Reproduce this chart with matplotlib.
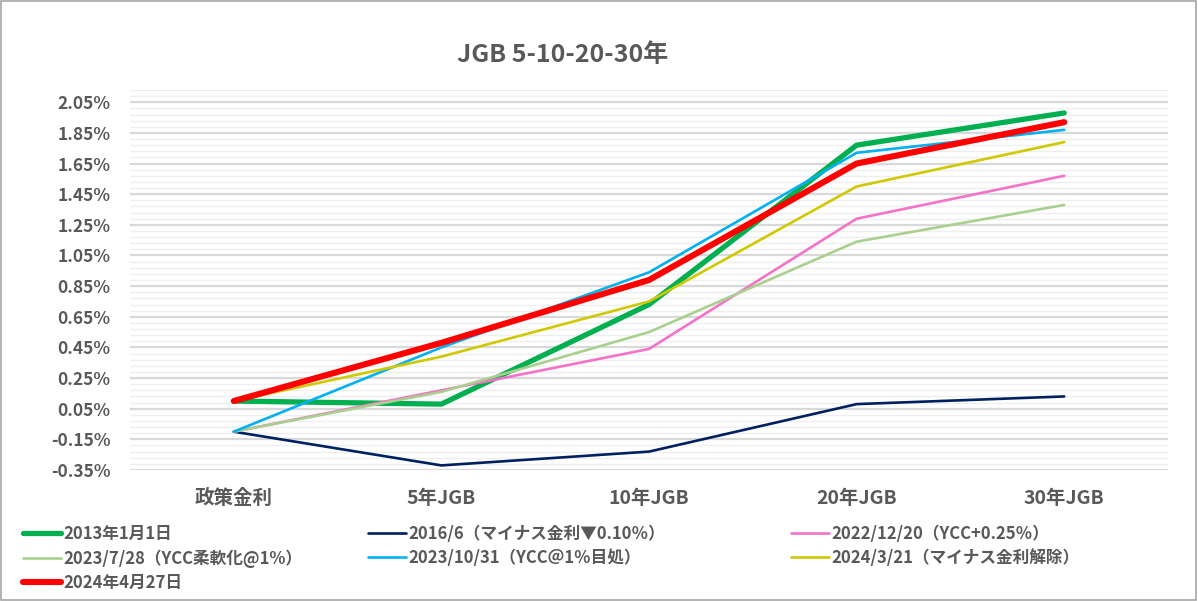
import matplotlib
matplotlib.use("Agg")
import matplotlib.pyplot as plt
from matplotlib.patches import Rectangle
from matplotlib.ticker import MultipleLocator, FuncFormatter

plt.rcParams['font.family'] = ['Noto Sans CJK JP', 'DejaVu Sans']

categories = ["政策金利", "5年JGB", "10年JGB", "20年JGB", "30年JGB"]

labels = [
    "2013年1月1日",
    "2016/6（マイナス金利▼0.10％）",
    "2022/12/20（YCC+0.25％）",
    "2023/7/28（YCC柔軟化@1%）",
    "2023/10/31（YCC＠1％目処）",
    "2024/3/21（マイナス金利解除）",
    "2024年4月27日",
]

y_2013 = [0.10, 0.08, 0.73, 1.77, 1.98]
y_2016 = [-0.10, -0.32, -0.23, 0.08, 0.13]
y_2022 = [-0.10, 0.17, 0.44, 1.29, 1.57]
y_2023_7 = [-0.10, 0.16, 0.55, 1.14, 1.38]
y_2023_10 = [-0.10, 0.45, 0.94, 1.72, 1.87]
y_2024_3 = [0.10, 0.39, 0.75, 1.50, 1.79]
y_2024_4 = [0.10, 0.48, 0.89, 1.65, 1.92]

series = [y_2013, y_2016, y_2022, y_2023_7, y_2023_10, y_2024_3, y_2024_4]
colors = ["#00B050", "#002060", "#F472C8", "#A9D08E", "#00B0F0", "#D0C800", "#FF0000"]
widths = [3.8, 1.9, 1.9, 1.9, 1.9, 1.9, 4.4]

txt = "#595959"

fig = plt.figure(figsize=(11.98, 6.01), dpi=100)
fig.patches.append(Rectangle((0.0005, 0.001), 0.998, 0.997, transform=fig.transFigure,
                             fill=False, edgecolor="#A6A6A6", linewidth=1.2))

ax = fig.add_axes([130 / 1198, 1 - 470 / 601, 1038 / 1198, 380 / 601])

x = list(range(len(categories)))
handles = []
for ys, c, w, lab in zip(series, colors, widths, labels):
    h, = ax.plot(x, ys, color=c, linewidth=w, label=lab, solid_capstyle="round",
                 solid_joinstyle="round", zorder=3)
    handles.append(h)

ax.set_xlim(-0.5, 4.5)
ax.set_ylim(-0.35, 2.13)
ax.yaxis.set_major_locator(MultipleLocator(0.20, offset=0.05))
ax.yaxis.set_minor_locator(MultipleLocator(0.04, offset=0.01))
ax.yaxis.set_major_formatter(FuncFormatter(lambda v, p: f"{v:.2f}%"))
ax.grid(which="major", axis="y", color="#D9D9D9", linewidth=1.6, zorder=0)
ax.grid(which="minor", axis="y", color="#EFEFEF", linewidth=1.0, zorder=0)
ax.set_axisbelow(True)
for s in ax.spines.values():
    s.set_visible(False)
ax.tick_params(axis="both", which="both", length=0)
ax.tick_params(axis="y", pad=14, labelsize=12.5, labelcolor=txt)
ax.tick_params(axis="x", pad=13.5, labelsize=14, labelcolor=txt)
ax.set_xticks(x)
ax.set_xticklabels(categories, fontweight="bold")
for t in ax.get_yticklabels():
    t.set_fontweight("bold")

fig.text(563 / 1198, 1 - 55 / 601, "JGB 5-10-20-30年", ha="center", va="center",
         fontsize=18, fontweight="bold", color=txt)

# legend laid out as three columns like the Excel one
cols = [[0, 3, 6], [1, 4], [2, 5]]
col_x = [23 / 1198, 368 / 1198, 791 / 1198]
for idx, cx in zip(cols, col_x):
    leg = fig.legend([handles[i] for i in idx], [labels[i] for i in idx],
                     loc="upper left", bbox_to_anchor=(cx, 1 - 525 / 601),
                     frameon=False, handlelength=2.3, handletextpad=0.12,
                     labelspacing=0.37, borderpad=0, borderaxespad=0,
                     prop={"size": 12, "weight": "bold"})
    for t in leg.get_texts():
        t.set_color(txt)

fig.savefig("out.png", dpi=100)
